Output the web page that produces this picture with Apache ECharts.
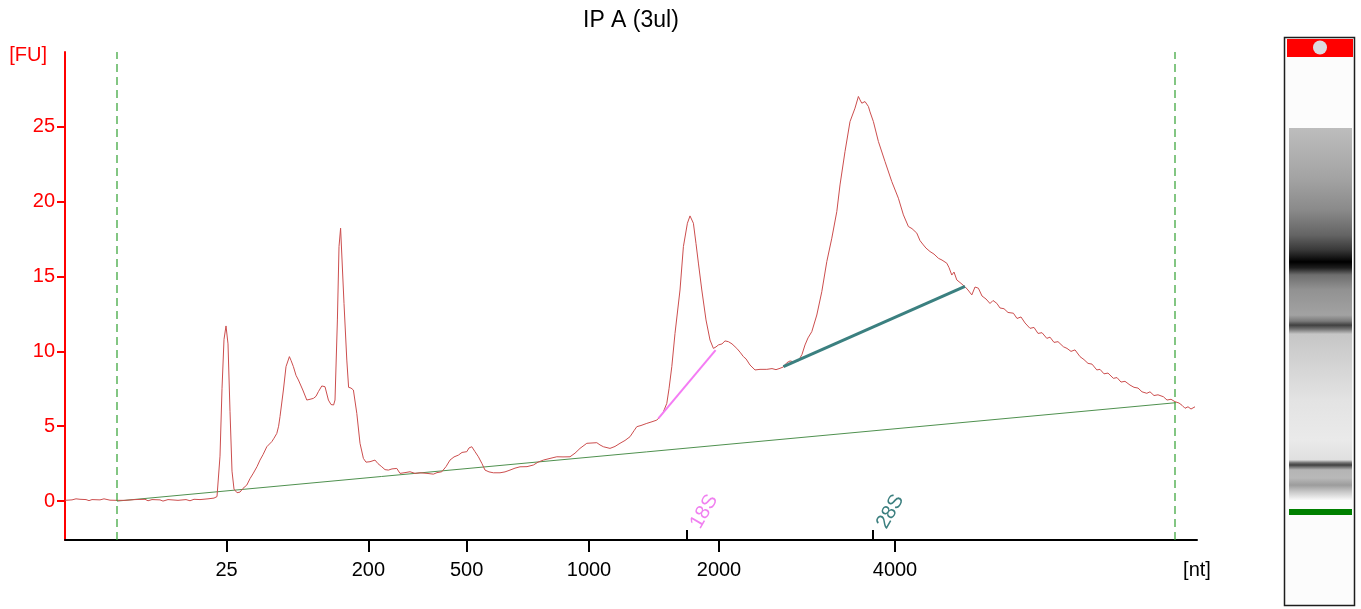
<!DOCTYPE html>
<html>
<head>
<meta charset="utf-8">
<script src="https://cdn.jsdelivr.net/npm/echarts@6/dist/echarts.min.js"></script>
<style>
html,body{margin:0;padding:0;background:#fff;}
#chart{width:1361px;height:609px;}
</style>
</head>
<body>
<div id="chart"></div>
<script>
// ---- data (migration time in s, fluorescence in FU) ----
const chartTitle = 'IP A (3ul)';
const timeMin = 17, timeMax = 73.6;
const fuMin = -2.6, fuMax = 30;
const fuTicks = [0, 5, 10, 15, 20, 25];

const ladderTimes = [25.08, 32.17, 37.08, 43.2, 49.7, 58.5];
const ladderLabels = ['25', '200', '500', '1000', '2000', '4000'];
const unitLabel = '[nt]';

const markerTimes = [48.08, 57.39];
const markerLabels = ['18S', '28S'];

const windowTimes = [19.6, 72.5];

const traceTime = [
  17.00,17.35,17.55,17.75,18.05,18.2,18.35,18.75,18.95,19.05,19.25,19.6,20.0,20.5,21.0,21.15,21.35,21.75,21.9,22.15,
  22.65,23.05,23.25,23.45,23.75,24.15,24.45,24.6,24.75,24.85,24.95,25.05,25.15,25.25,25.35,25.45,25.6,25.75,25.9,26.09,
  26.25,26.42,26.6,26.75,26.9,27.09,27.34,27.45,27.59,27.68,27.75,27.92,28.05,28.22,28.3,28.42,28.55,28.67,28.89,29.09,
  29.25,29.42,29.55,29.67,29.84,30.0,30.17,30.3,30.43,30.5,30.62,30.7,30.78,30.87,30.95,31.09,31.18,31.3,31.42,31.59,
  31.75,31.92,32.05,32.25,32.35,32.5,32.65,32.84,33.0,33.17,33.35,33.59,33.75,34.0,34.25,34.5,34.75,35.1,35.42,35.6,
  35.84,36.05,36.25,36.45,36.67,36.85,37.09,37.2,37.34,37.5,37.67,37.85,38.0,38.2,38.42,38.75,39.0,39.25,39.5,39.75,
  40.1,40.42,40.65,40.92,41.25,41.59,41.9,42.25,42.5,42.75,43.09,43.59,43.75,43.92,44.25,44.5,44.75,45.0,45.25,45.45,
  45.59,45.8,46.09,46.35,46.59,46.75,46.9,47.09,47.2,47.34,47.5,47.75,47.92,48.12,48.25,48.42,48.55,48.67,48.84,49.05,
  49.25,49.42,49.55,49.67,49.85,50.0,50.17,50.35,50.59,50.75,50.92,51.05,51.25,51.5,51.75,52.09,52.35,52.55,52.75,52.9,
  53.09,53.25,53.45,53.67,53.85,54.0,54.15,54.34,54.59,54.84,55.09,55.34,55.59,55.75,56.0,56.25,56.5,56.67,56.75,56.84,
  56.9,57.0,57.17,57.25,57.42,57.67,58.0,58.34,58.67,58.92,59.17,59.35,59.59,59.75,59.92,60.05,60.25,60.45,60.67,60.85,
  61.09,61.2,61.34,61.45,61.59,61.75,62.0,62.15,62.34,62.5,62.67,62.85,63.05,63.25,63.4,63.59,63.75,63.95,64.15,64.42,
  64.6,64.8,65.0,65.25,65.45,65.65,65.85,66.09,66.25,66.45,66.65,66.92,67.1,67.3,67.5,67.75,67.95,68.15,68.35,68.59,
  68.75,68.95,69.15,69.42,69.6,69.8,70.0,70.25,70.45,70.65,70.85,71.09,71.25,71.45,71.65,71.92,72.1,72.3,72.5,72.7,
  72.85,73.0,73.15,73.3,73.5
];
const traceFU = [
  0.05,0.08,0.15,0.12,0.1,0.03,0.1,0.08,0.15,0.05,0.06,0.05,0.05,0.1,0.12,0.02,0.1,0.08,0.0,0.1,
  0.05,0.1,0.02,0.12,0.1,0.15,0.2,0.3,3.0,7.5,10.8,11.7,10.5,6.0,2.0,0.8,0.56,0.6,0.85,1.07,
  1.5,1.87,2.3,2.74,3.1,3.63,3.97,4.2,4.52,5.0,5.64,7.42,8.98,9.65,9.4,8.98,8.4,8.09,7.42,6.75,
  6.8,6.86,7.0,7.31,7.69,7.64,6.75,6.45,6.42,6.75,12.1,17.0,18.23,18.1,13.2,9.42,7.6,7.55,7.42,5.86,
  3.86,2.85,2.6,2.63,2.75,2.74,2.5,2.29,2.1,2.07,2.15,2.18,1.85,1.9,1.96,1.85,1.89,1.85,1.8,1.9,
  1.96,2.3,2.74,2.95,3.07,3.25,3.3,3.55,3.63,3.3,2.96,2.5,2.07,1.95,1.89,1.89,1.95,2.07,2.2,2.29,
  2.3,2.41,2.6,2.74,2.85,2.96,2.95,2.96,3.2,3.52,3.86,3.9,3.75,3.63,3.52,3.65,3.86,4.05,4.3,4.7,
  4.97,5.05,5.19,5.3,5.41,5.64,5.9,6.53,7.5,8.98,11.2,14.1,17.0,18.56,19.05,18.56,17.2,15.9,14.1,12.1,
  10.76,10.2,10.3,10.43,10.5,10.7,10.65,10.5,10.2,9.95,9.65,9.5,9.09,8.76,8.8,8.8,8.85,8.78,8.87,8.95,
  9.24,9.36,9.3,9.36,9.8,10.43,10.9,11.32,12.43,13.99,16.0,17.56,19.34,21.12,23.35,25.35,26.25,27.03,26.8,26.58,
  26.6,26.69,26.36,26.0,25.35,24.02,22.68,21.34,20.23,19.12,18.34,18.2,17.9,17.4,17.11,16.9,16.67,16.5,16.22,16.1,
  15.89,15.6,15.1,15.3,14.77,14.6,14.32,14.1,13.77,14.3,14.22,13.7,13.5,13.2,13.4,13.21,12.9,12.85,12.6,12.55,
  12.2,12.3,11.9,11.54,11.6,11.2,11.25,10.87,10.95,10.6,10.65,10.31,10.2,10.0,10.1,9.65,9.45,9.2,9.15,8.76,
  8.8,8.5,8.55,8.2,8.25,7.95,8.0,7.75,7.6,7.55,7.3,7.2,7.3,7.05,7.1,6.97,6.75,6.8,6.64,6.55,
  6.4,6.2,6.3,6.15,6.3
];

const baselineTime = [19.6, 72.53];
const baselineFU = [0, 6.57];
const peak18STime = [46.67, 49.53];
const peak18SFU = [5.53, 10.09];
const peak28STime = [52.92, 62.0];
const peak28SFU = [8.98, 14.34];

// ---- build ----
const zip = (a, b) => a.map((v, i) => [v, b[i]]);
const nearestIdx = (arr, v) => {
  let best = 0, d = Infinity;
  arr.forEach((x, i) => { const dd = Math.abs(x - v); if (dd < d) { d = dd; best = i; } });
  return best;
};

const FONT = 'Liberation Sans, Arial, sans-serif';

const gelStops = [
  [0.000, '#bdbdbd'], [0.059, '#b2b2b2'], [0.140, '#a2a2a2'], [0.220, '#8a8a8a'],
  [0.288, '#646464'], [0.328, '#383838'], [0.349, '#141414'], [0.360, '#000000'],
  [0.376, '#1e1e1e'], [0.395, '#6e6e6e'], [0.435, '#929292'], [0.503, '#a2a2a2'],
  [0.519, '#7a7a7a'], [0.530, '#404040'], [0.540, '#707070'], [0.554, '#c6c6c6'],
  [0.651, '#d6d6d6'], [0.731, '#e3e3e3'], [0.839, '#eaeaea'], [0.892, '#e0e0e0'],
  [0.900, '#707070'], [0.906, '#404040'], [0.911, '#707070'], [0.919, '#b4b4b4'],
  [0.941, '#b8b8b8'], [0.960, '#9c9c9c'], [0.978, '#c8c8c8'], [1.000, '#f8f8f8']
];

const windowSeries = windowTimes.map((t, i) => ({
  type: 'line', name: 'window' + i, data: [[t, fuMin], [t, fuMax]],
  showSymbol: false, symbol: 'none', silent: true,
  itemStyle: { color: '#2fa02f' },
  lineStyle: { color: '#2fa02f', width: 1.2, type: [8, 5] }, z: 5
}));

const chart = echarts.init(document.getElementById('chart'), null, { renderer: 'canvas' });
chart.setOption({
  animation: false,
  backgroundColor: '#ffffff',
  title: {
    text: chartTitle,
    left: 578, top: 4,
    textStyle: { fontFamily: FONT, fontSize: 23, fontWeight: 'normal', color: '#000' }
  },
  grid: { left: 65, right: 164, top: 52, bottom: 69, containLabel: false, outerBoundsMode: 'none' },
  xAxis: [{
    type: 'value', min: timeMin, max: timeMax,
    axisLine: { show: true, onZero: false, lineStyle: { color: '#000', width: 2 } },
    axisTick: { show: true, inside: false, length: 12, customValues: ladderTimes, lineStyle: { color: '#000', width: 2 } },
    axisLabel: {
      show: true, margin: 20, showMaxLabel: true, showMinLabel: true,
      customValues: ladderTimes.concat([timeMax]),
      fontFamily: FONT, fontSize: 20, color: '#000',
      formatter: function (v) {
        if (Math.abs(v - timeMax) < 1e-6) return unitLabel;
        return ladderLabels[nearestIdx(ladderTimes, v)];
      }
    },
    splitLine: { show: false }
  }, {
    type: 'value', min: timeMin, max: timeMax, position: 'bottom',
    axisLine: { show: false, onZero: false },
    axisTick: { show: true, inside: true, length: 10, customValues: markerTimes, lineStyle: { color: '#000', width: 2 } },
    axisLabel: {
      show: true, inside: true, rotate: 60, margin: 18,
      align: 'left', verticalAlign: 'top',
      customValues: markerTimes,
      fontFamily: FONT, fontSize: 20,
      formatter: function (v) {
        const i = nearestIdx(markerTimes, v);
        return '{m' + i + '|' + markerLabels[i] + '}';
      },
      rich: {
        m0: { color: '#f080f0', fontFamily: FONT, fontSize: 20 },
        m1: { color: '#3b7f7f', fontFamily: FONT, fontSize: 20 }
      }
    },
    splitLine: { show: false }
  }],
  yAxis: {
    type: 'value', min: fuMin, max: fuMax,
    name: '[FU]', nameLocation: 'end', nameGap: -3,
    nameTextStyle: { fontFamily: FONT, fontSize: 20, color: '#ff0000', align: 'right', verticalAlign: 'middle', padding: [0, 18, 0, 0] },
    axisLine: { show: true, onZero: false, lineStyle: { color: '#ff0000', width: 2 } },
    axisTick: { show: true, length: 8, customValues: fuTicks, lineStyle: { color: '#ff0000', width: 2 } },
    axisLabel: { show: true, margin: 10, customValues: fuTicks, fontFamily: FONT, fontSize: 20, color: '#ff0000' },
    splitLine: { show: false }
  },
  series: windowSeries.concat([
    {
      type: 'line', name: 'baseline', data: zip(baselineTime, baselineFU),
      showSymbol: false, symbol: 'none', silent: true,
      lineStyle: { color: '#4f914f', width: 1 }, z: 2
    },
    {
      type: 'line', name: 'trace', data: zip(traceTime, traceFU),
      showSymbol: false, symbol: 'none', silent: true,
      lineStyle: { color: '#cc4e4e', width: 1 }, z: 3
    },
    {
      type: 'line', name: '18S', data: zip(peak18STime, peak18SFU),
      showSymbol: false, symbol: 'none', silent: true,
      lineStyle: { color: '#f47cf4', width: 2 }, z: 4
    },
    {
      type: 'line', name: '28S', data: zip(peak28STime, peak28SFU),
      showSymbol: false, symbol: 'none', silent: true,
      lineStyle: { color: '#3b8080', width: 3 }, z: 4
    }
  ]),
  graphic: [
    { type: 'rect', shape: { x: 1284.5, y: 37.5, width: 70, height: 568 }, style: { fill: '#fcfcfc', stroke: '#1e1e1e', lineWidth: 1.5 }, z: 1 },
    { type: 'rect', shape: { x: 1287, y: 39, width: 66, height: 18 }, style: { fill: '#ff0000' }, z: 2 },
    { type: 'circle', shape: { cx: 1320, cy: 47.5, r: 7 }, style: { fill: '#dcdce0' }, z: 3 },
    {
      type: 'rect', shape: { x: 1289, y: 128, width: 63, height: 372 },
      style: {
        fill: new echarts.graphic.LinearGradient(0, 0, 0, 1, gelStops.map(s => ({ offset: s[0], color: s[1] })))
      }, z: 2
    },
    { type: 'rect', shape: { x: 1289, y: 509, width: 63, height: 6 }, style: { fill: '#008000' }, z: 2 }
  ]
});
</script>
</body>
</html>
